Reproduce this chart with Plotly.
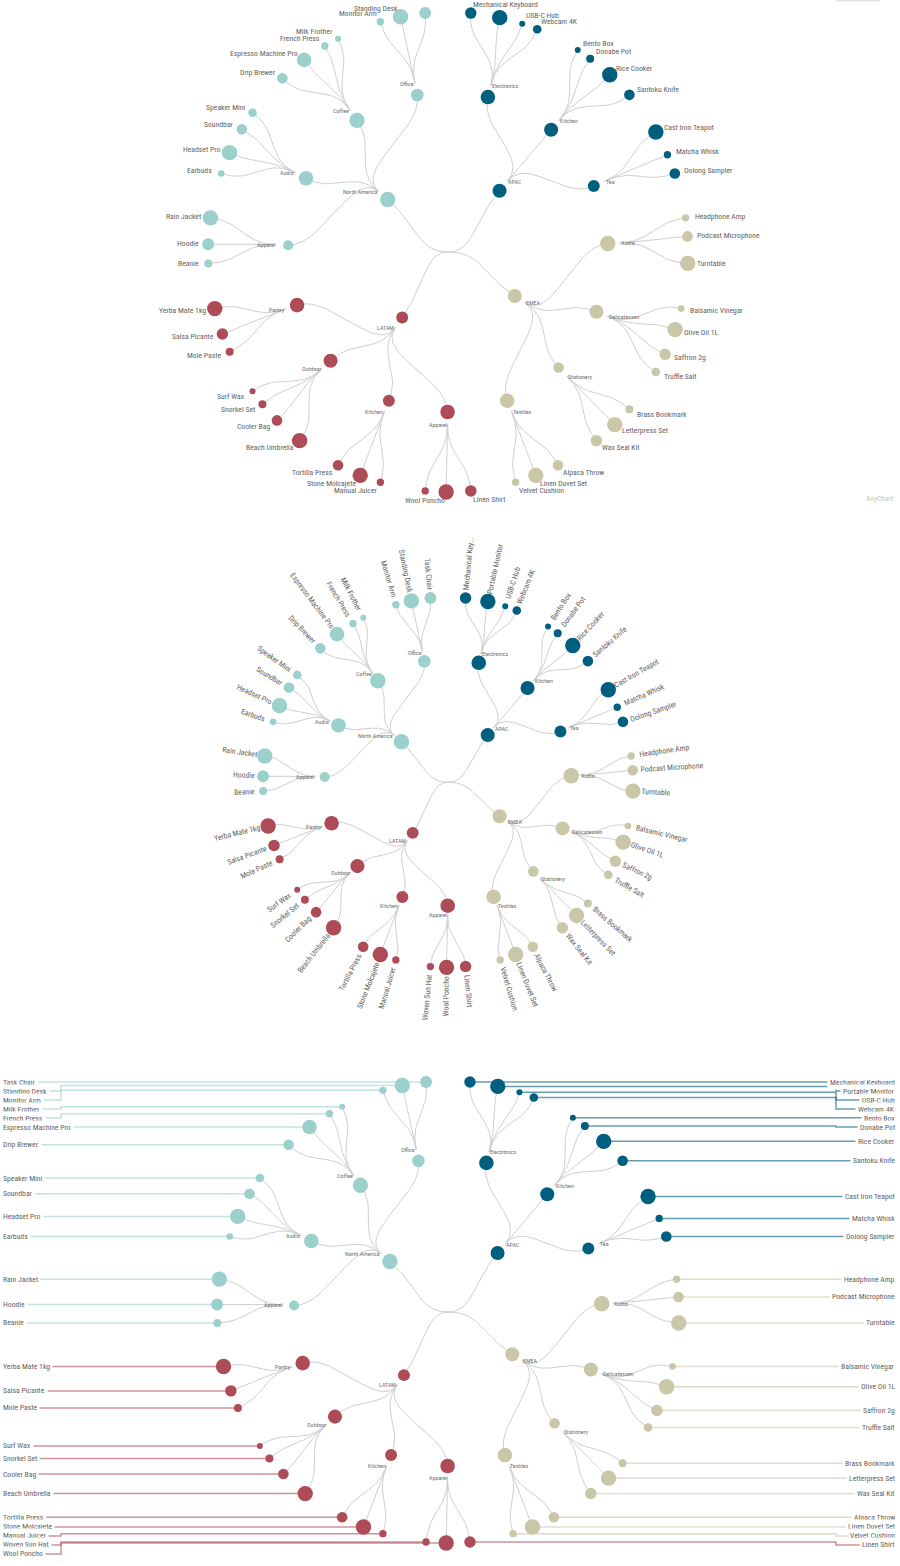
import math
import plotly.graph_objects as go

# ---------------- data ----------------
region_names = ["APAC", "EMEA", "LATAM", "North America"]
region_values = [87, 87, 67, 100]
region_colors = ["#005f7f", "#c9c7a8", "#ad4b56", "#9bd0cc"]

category_names = ["Electronics", "Kitchen", "Tea",
                  "Audio", "Delicatessen", "Stationery", "Textiles",
                  "Apparel", "Kitchen", "Outdoor", "Pantry",
                  "Apparel", "Audio", "Coffee", "Office"]
category_region = [0, 0, 0, 1, 1, 1, 1, 2, 2, 2, 2, 3, 3, 3, 3]
category_values = [92, 87, 67, 100, 87, 54, 92, 92, 67, 87, 92, 48, 92, 100, 73]

leaf_names = [
    "Mechanical Keyboard", "Portable Monitor", "USB-C Hub", "Webcam 4K",
    "Bento Box", "Donabe Pot", "Rice Cooker", "Santoku Knife",
    "Cast Iron Teapot", "Matcha Whisk", "Oolong Sampler",
    "Headphone Amp", "Podcast Microphone", "Turntable",
    "Balsamic Vinegar", "Olive Oil 1L", "Saffron 2g", "Truffle Salt",
    "Brass Bookmark", "Letterpress Set", "Wax Seal Kit",
    "Alpaca Throw", "Linen Duvet Set", "Velvet Cushion",
    "Linen Shirt", "Wool Poncho", "Woven Sun Hat",
    "Manual Juicer", "Stone Molcajete", "Tortilla Press",
    "Beach Umbrella", "Cooler Bag", "Snorkel Set", "Surf Wax",
    "Mole Paste", "Salsa Picante", "Yerba Mate 1kg",
    "Beanie", "Hoodie", "Rain Jacket",
    "Earbuds", "Headset Pro", "Soundbar", "Speaker Mini",
    "Drip Brewer", "Espresso Machine Pro", "French Press", "Milk Frother",
    "Monitor Arm", "Standing Desk", "Task Chair",
]
leaf_category = [0, 0, 0, 0, 1, 1, 1, 1, 2, 2, 2,
                 3, 3, 3, 4, 4, 4, 4, 5, 5, 5, 6, 6, 6,
                 7, 7, 7, 8, 8, 8, 9, 9, 9, 9, 10, 10, 10,
                 11, 11, 11, 12, 12, 12, 12, 13, 13, 13, 13, 14, 14, 14]
leaf_values = [62, 100, 10, 35, 10, 29, 100, 54, 100, 23, 54,
               23, 54, 100, 16, 100, 62, 35, 29, 100, 62, 54, 100, 23,
               62, 100, 23, 23, 100, 54, 100, 54, 29, 10, 29, 62, 100,
               29, 67, 100, 16, 100, 54, 35, 54, 92, 23, 10, 23, 100, 67]

# ---------------- style ----------------
FONT = "Liberation Sans Narrow, Arial Narrow, Roboto Condensed, sans-serif"
TEXT_COLOR = "#636363"
INNER_TEXT = "#707070"
LINK_COLOR = "#cfcfcf"
LEAF_FS = 7.7
INNER_FS = 6.0

AW = {' ': 278, '-': 333, '.': 278, 'A': 667, 'B': 667, 'C': 722, 'D': 722, 'E': 667, 'F': 611,
      'G': 778, 'H': 722, 'I': 278, 'J': 500, 'K': 667, 'L': 556, 'M': 833, 'N': 722, 'O': 778,
      'P': 667, 'Q': 778, 'R': 722, 'S': 667, 'T': 611, 'U': 722, 'V': 667, 'W': 944, 'X': 667,
      'Y': 667, 'Z': 611, 'a': 556, 'b': 556, 'c': 500, 'd': 556, 'e': 556, 'f': 278, 'g': 556,
      'h': 556, 'i': 222, 'j': 222, 'k': 500, 'l': 222, 'm': 833, 'n': 556, 'o': 556, 'p': 556,
      'q': 556, 'r': 333, 's': 500, 't': 278, 'u': 556, 'v': 500, 'w': 722, 'x': 500, 'y': 500,
      'z': 500}


def text_width(s, size):
    return sum(AW.get(ch, 556) for ch in s) / 1000.0 * 0.82 * size


def radius_of(v):
    return 3.0 + (v - 10.0) / 90.0 * 4.7


# ---------------- layout: cluster spacing, size-weighted inside each category ----------------
n = len(leaf_names)
leaf_r = [radius_of(v) for v in leaf_values]
units = [0.0]
for i in range(1, n):
    units.append(units[-1] + (1.0 if leaf_category[i] == leaf_category[i - 1] else 2.0))
span = units[-1] + 2.0
for c in range(len(category_names)):
    idx = [i for i in range(n) if leaf_category[i] == c]
    u0, u1 = units[idx[0]], units[idx[-1]]
    w = [leaf_r[idx[j]] + leaf_r[idx[j + 1]] for j in range(len(idx) - 1)]
    acc = 0.0
    for j in range(1, len(idx) - 1):
        acc += w[j - 1]
        units[idx[j]] = u0 + (u1 - u0) * acc / sum(w)
leaf_theta = [(u + 1.0) / span * 360.0 for u in units]

cat_theta = []
for c in range(len(category_names)):
    th = [leaf_theta[i] for i in range(n) if leaf_category[i] == c]
    cat_theta.append(sum(th) / len(th))
reg_theta = []
for k in range(len(region_names)):
    th = [cat_theta[c] for c in range(len(category_names)) if category_region[c] == k]
    reg_theta.append(sum(th) / len(th))

nodes = [dict(name="", depth=0, theta=0.0, r=0.0, color=None, parent=None, region=None)]
reg_idx = []
for k, nm in enumerate(region_names):
    nodes.append(dict(name=nm, depth=1, theta=reg_theta[k], r=radius_of(region_values[k]),
                      color=region_colors[k], parent=0, region=k))
    reg_idx.append(len(nodes) - 1)
cat_idx = []
for c, nm in enumerate(category_names):
    k = category_region[c]
    nodes.append(dict(name=nm, depth=2, theta=cat_theta[c], r=radius_of(category_values[c]),
                      color=region_colors[k], parent=reg_idx[k], region=k))
    cat_idx.append(len(nodes) - 1)
leaf_idx = []
for i, nm in enumerate(leaf_names):
    c = leaf_category[i]
    k = category_region[c]
    nodes.append(dict(name=nm, depth=3, theta=leaf_theta[i], r=leaf_r[i],
                      color=region_colors[k], parent=cat_idx[c], region=k))
    leaf_idx.append(len(nodes) - 1)

panels = [
    dict(cx=448.0, cy=252.0, R=80.0, mode="side"),
    dict(cx=448.0, cy=782.3, R=61.7, mode="radial", top=538.0),
    dict(cx=448.0, cy=1312.0, R=77.0, mode="edge"),
]


def polar(p, theta, rad):
    t = math.radians(theta)
    return p["cx"] + rad * math.sin(t), p["cy"] - rad * math.cos(t)


def bezier(p0, p1, p2, p3, m=28):
    out = []
    for j in range(m + 1):
        t = j / m
        a, b, c, d = (1 - t) ** 3, 3 * (1 - t) ** 2 * t, 3 * (1 - t) * t ** 2, t ** 3
        out.append((a * p0[0] + b * p1[0] + c * p2[0] + d * p3[0],
                    a * p0[1] + b * p1[1] + c * p2[1] + d * p3[1]))
    return out


def hexrgba(h, a):
    h = h.lstrip("#")
    return "rgba(%d,%d,%d,%.2f)" % (int(h[0:2], 16), int(h[2:4], 16), int(h[4:6], 16), a)


fig = go.Figure()
annotations = []
LABEL_OFF = 8.3

for p in panels:
    R = p["R"]
    off = 0.15 * R
    cx, cy = p["cx"], p["cy"]
    # links
    lx, ly = [], []
    for nd in nodes[1:]:
        par = nodes[nd["parent"]]
        rc = nd["depth"] * R
        P3 = polar(p, nd["theta"], rc)
        if par["depth"] == 0:
            P0 = (cx, cy)
            P1 = (cx + (P3[0] - cx) * 0.5, cy)
            P2 = polar(p, nd["theta"], rc * 0.5)
        else:
            rf = par["depth"] * R + off
            rm = (rf + rc) / 2.0
            P0 = polar(p, par["theta"], rf)
            P1 = polar(p, par["theta"], rm)
            P2 = polar(p, nd["theta"], rm)
        for q in bezier(P0, P1, P2, P3):
            lx.append(q[0])
            ly.append(q[1])
        lx.append(None)
        ly.append(None)
    fig.add_trace(go.Scatter(x=lx, y=ly, mode="lines", line=dict(color=LINK_COLOR, width=1),
                             hoverinfo="skip"))

    # edge-aligned connectors
    if p["mode"] == "edge":
        for side in ("L", "R"):
            items = []
            for li in leaf_idx:
                nd = nodes[li]
                x, y = polar(p, nd["theta"], 3 * R)
                is_left = math.sin(math.radians(nd["theta"])) < 0
                if (side == "L") == is_left:
                    items.append((y, x, nd))
            items.sort(key=lambda t: t[0])
            prev = -1e9
            for (y, x, nd) in items:
                ly_ = max(y, prev + 9.0)
                prev = ly_
                edge = 1.0 if side == "L" else 897.0
                elbow = 61.0 if side == "L" else 836.0
                if abs(ly_ - y) < 0.5:
                    xs, ys = [x, edge], [y, y]
                else:
                    xs, ys = [x, elbow, elbow, edge], [y, y, ly_, ly_]
                fig.add_trace(go.Scatter(x=xs, y=ys, mode="lines",
                                         line=dict(color=hexrgba(nd["color"], 0.6), width=1.5),
                                         hoverinfo="skip"))
                annotations.append(dict(
                    x=0.05 if side == "L" else 898.0, y=ly_, text=nd["name"], showarrow=False,
                    xanchor="left" if side == "L" else "right", yanchor="middle",
                    font=dict(family=FONT, size=LEAF_FS, color=TEXT_COLOR),
                    bgcolor="white", borderpad=2))

    # nodes
    for k in range(len(region_names)):
        xs, ys, ss = [], [], []
        for nd in nodes[1:]:
            if nd["region"] != k:
                continue
            x, y = polar(p, nd["theta"], nd["depth"] * R)
            xs.append(x)
            ys.append(y)
            ss.append(2 * nd["r"])
        fig.add_trace(go.Scatter(x=xs, y=ys, mode="markers",
                                 marker=dict(size=ss, color=region_colors[k], opacity=1,
                                             line=dict(width=0)),
                                 hoverinfo="skip"))

    # inner labels
    for nd in nodes[1:]:
        if nd["depth"] == 3:
            continue
        x, y = polar(p, nd["theta"], nd["depth"] * R + off)
        left = math.sin(math.radians(nd["theta"])) < 0
        annotations.append(dict(x=x, y=y, text=nd["name"], showarrow=False,
                                xanchor="right" if left else "left", yanchor="middle",
                                font=dict(family=FONT, size=INNER_FS, color=INNER_TEXT),
                                borderpad=0))

    # leaf labels
    if p["mode"] == "side":
        placed = []
        for li in leaf_idx:
            nd = nodes[li]
            t = math.radians(nd["theta"])
            x, y = polar(p, nd["theta"], 3 * R)
            ax, ay = x + LABEL_OFF * math.sin(t), y - LABEL_OFF * math.cos(t)
            w = text_width(nd["name"], LEAF_FS)
            left = math.sin(t) < 0
            box = (ax - w, ax, ay - 2.5, ay + 2.5) if left else (ax, ax + w, ay - 2.5, ay + 2.5)
            clash = any(not (box[1] <= b[0] or box[0] >= b[1] or box[3] <= b[2] or box[2] >= b[3])
                        for b in placed)
            if clash:
                continue
            placed.append(box)
            annotations.append(dict(x=ax, y=ay, text=nd["name"], showarrow=False,
                                    xanchor="right" if left else "left", yanchor="middle",
                                    font=dict(family=FONT, size=LEAF_FS, color=TEXT_COLOR),
                                    borderpad=0))
    elif p["mode"] == "radial":
        for li in leaf_idx:
            nd = nodes[li]
            t = math.radians(nd["theta"])
            x, y = polar(p, nd["theta"], 3 * R)
            ax, ay = x + LABEL_OFF * math.sin(t), y - LABEL_OFF * math.cos(t)
            left = math.sin(t) < 0
            label = nd["name"]
            dir_y = -math.cos(t)
            if dir_y < 0:
                def end_y(s):
                    return ay + dir_y * text_width(s, LEAF_FS)
                if end_y(label) < p["top"]:
                    base = label
                    while base and end_y(base + "...") < p["top"]:
                        base = base[:-1]
                    label = base.rstrip() + "..."
            hidden = '<span style="color:rgba(0,0,0,0)">%s</span>' % label
            if left:
                txt = label + hidden
                ang = nd["theta"] - 360 + 90 if nd["theta"] > 180 else nd["theta"] + 90
            else:
                txt = hidden + label
                ang = nd["theta"] - 90
            annotations.append(dict(x=ax, y=ay, text=txt, showarrow=False, textangle=ang,
                                    xanchor="center", yanchor="middle",
                                    font=dict(family=FONT, size=LEAF_FS, color=TEXT_COLOR),
                                    borderpad=0))

# credit text and faint top-right bar
annotations.append(dict(x=894, y=498, text="AnyChart", showarrow=False, xanchor="right",
                        yanchor="middle", font=dict(family=FONT, size=7.5, color="#c4c4c4"),
                        borderpad=0))
fig.add_trace(go.Scatter(x=[836, 880], y=[0.8, 0.8], mode="lines",
                         line=dict(color="#e4e4e4", width=1.6), hoverinfo="skip"))

fig.update_layout(
    width=900, height=1566, margin=dict(l=0, r=0, t=0, b=0),
    paper_bgcolor="white", plot_bgcolor="white", showlegend=False,
    xaxis=dict(range=[0, 900], visible=False, fixedrange=True),
    yaxis=dict(range=[1566, 0], visible=False, fixedrange=True),
    annotations=annotations,
)
fig.write_html("out.html")
